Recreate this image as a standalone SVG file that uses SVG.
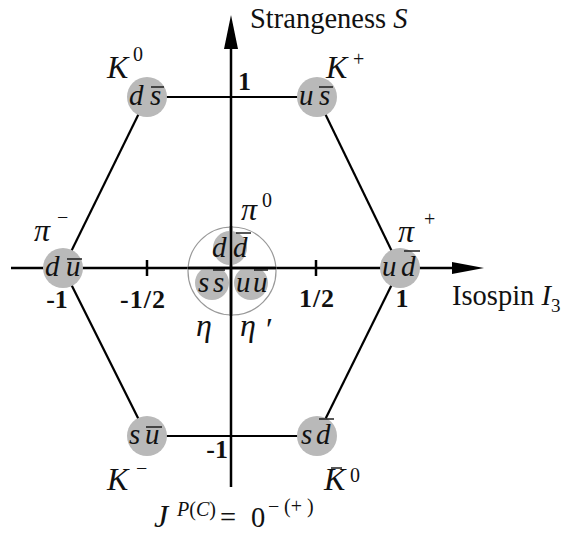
<svg xmlns="http://www.w3.org/2000/svg" width="570" height="535" viewBox="0 0 570 535">
<style>
.ax{stroke:#000;stroke-width:2.5;fill:none}
.edge{stroke:#000;stroke-width:2.2;fill:none}
.node{fill:#b9b9b9}
.q{font-family:"Liberation Serif",serif;font-style:italic;font-size:29px;fill:#111}
.bar{stroke:#111;stroke-width:1.4}
.lab{font-family:"Liberation Serif",serif;font-style:italic;font-size:32px;fill:#111}
.sup{font-family:"Liberation Serif",serif;font-size:20px;fill:#111}
.num{font-family:"Liberation Serif",serif;font-weight:bold;font-size:26px;fill:#111}
.ttl{font-family:"Liberation Serif",serif;font-size:28.5px;fill:#111}
</style>
<g id="connectors">
<line class="edge" x1="147" y1="97" x2="317" y2="97"/>
<line class="edge" x1="147" y1="436" x2="317" y2="436"/>
<line class="edge" x1="147" y1="97" x2="63" y2="268"/>
<line class="edge" x1="317" y1="97" x2="400" y2="268"/>
<line class="edge" x1="63" y1="268" x2="147" y2="436"/>
<line class="edge" x1="400" y1="268" x2="317" y2="436"/>
</g>
<g id="axes">
<line class="ax" x1="11" y1="268" x2="455" y2="268"/>
<polygon points="484,268 452,262 452,274" fill="#000"/>
<line class="ax" x1="231" y1="45" x2="231" y2="487"/>
<polygon points="231,15 224,49 238,49" fill="#000"/>
<line class="ax" x1="147" y1="260" x2="147" y2="276"/>
<line class="ax" x1="316" y1="260" x2="316" y2="276"/>
<text class="ttl" x="250" y="28">Strangeness <tspan font-style="italic">S</tspan></text>
<text class="ttl" x="452" y="305">Isospin <tspan font-style="italic">I</tspan><tspan font-size="19" dy="7">3</tspan></text>
<text class="num" x="57" y="308" text-anchor="middle">-1</text>
<text class="num" x="143" y="308" text-anchor="middle" letter-spacing="1">-1/2</text>
<text class="num" x="317" y="307" text-anchor="middle" letter-spacing="1">1/2</text>
<text class="num" x="402" y="307" text-anchor="middle">1</text>
<text class="num" x="238" y="90" font-size="23">1</text>
<text class="num" x="228" y="458" text-anchor="end">-1</text>
</g>
<g id="node-ds">
<circle class="node" cx="147" cy="97" r="20"/>
<text class="q" x="129" y="105">d</text><text class="q" x="150" y="105">s</text>
<line class="bar" x1="151" y1="87" x2="164" y2="87"/>
<text class="lab" x="107" y="78">K</text><text class="sup" x="133" y="61">0</text>
</g>
<g id="node-us">
<circle class="node" cx="317" cy="97" r="20"/>
<text class="q" x="299" y="105">u</text><text class="q" x="319" y="105">s</text>
<line class="bar" x1="319" y1="87" x2="333" y2="87"/>
<text class="lab" x="326" y="78">K</text><text class="sup" x="353" y="66">+</text>
</g>
<g id="node-du">
<circle class="node" cx="63" cy="268" r="20"/>
<text class="q" x="45" y="276">d</text><text class="q" x="66" y="276">u</text>
<line class="bar" x1="67" y1="259" x2="82" y2="259"/>
<text class="lab" x="34" y="241">π</text><text class="sup" x="57" y="224">−</text>
</g>
<g id="node-ud">
<circle class="node" cx="400" cy="268" r="20"/>
<text class="q" x="382" y="276">u</text><text class="q" x="401" y="276">d</text>
<line class="bar" x1="404" y1="251" x2="420" y2="251"/>
<text class="lab" x="398" y="242">π</text><text class="sup" x="424" y="226">+</text>
</g>
<g id="node-su">
<circle class="node" cx="147" cy="436" r="20"/>
<text class="q" x="129" y="444">s</text><text class="q" x="145" y="444">u</text>
<line class="bar" x1="146" y1="427" x2="162" y2="427"/>
<text class="lab" x="107" y="490">K</text><text class="sup" x="136" y="475">−</text>
</g>
<g id="node-sd">
<circle class="node" cx="317" cy="436" r="20"/>
<text class="q" x="301" y="444">s</text><text class="q" x="316" y="444">d</text>
<line class="bar" x1="319" y1="419" x2="334" y2="419"/>
<text class="lab" x="324" y="490">K</text><line class="bar" x1="331" y1="468" x2="342" y2="468"/><text class="sup" x="350" y="482">0</text>
</g>
<g id="node-center">
<circle cx="232" cy="271" r="44" fill="none" stroke="#999" stroke-width="1.2"/>
<circle class="node" cx="230" cy="248" r="17"/>
<circle class="node" cx="212" cy="283" r="17"/>
<circle class="node" cx="251" cy="283" r="17"/>
<line class="ax" x1="231" y1="226" x2="231" y2="316"/>
<line class="ax" x1="188" y1="268" x2="276" y2="268"/>
<text class="q" x="212" y="257">d</text><text class="q" x="233" y="257">d</text>
<line class="bar" x1="236" y1="233" x2="251" y2="233"/>
<text class="q" x="198" y="292">s</text><text class="q" x="213" y="292">s</text>
<line class="bar" x1="213" y1="270" x2="225" y2="270"/>
<text class="q" x="236" y="292">u</text><text class="q" x="253" y="292">u</text>
<line class="bar" x1="254" y1="270" x2="268" y2="270"/>
<text class="lab" x="241" y="220">π</text><text class="sup" x="262" y="207">0</text>
<text class="lab" x="196" y="336">η</text>
<text class="lab" x="240" y="336">η</text><text class="lab" x="264" y="340" font-size="36">′</text>
</g>
<g id="jpc">
<text class="lab" x="154" y="527">J</text>
<text class="sup" x="177" y="516"><tspan font-style="italic">P</tspan>(<tspan font-style="italic">C</tspan>)</text>
<text class="ttl" x="220" y="527" font-size="31">=</text>
<text class="ttl" x="251" y="527" font-size="31">0</text>
<text class="sup" x="268" y="513">−</text>
<text class="sup" x="284" y="513">(+ )</text>
</g>
</svg>
